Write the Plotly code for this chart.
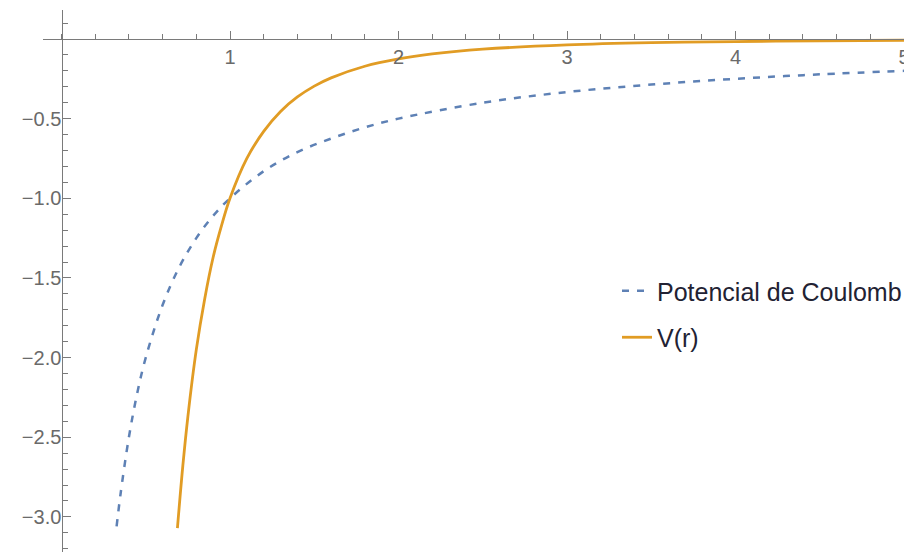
import plotly.graph_objects as go

# Values
r_coulomb = [0.327, 0.35, 0.40, 0.45, 0.50, 0.60, 0.70, 0.80, 0.90, 1.00, 1.20, 1.40,
             1.60, 1.80, 2.00, 2.50, 3.00, 3.50, 4.00, 4.50, 5.00]
v_coulomb = [-3.06, -2.86, -2.50, -2.22, -2.00, -1.67, -1.43, -1.25, -1.11, -1.00, -0.83, -0.71,
             -0.625, -0.555, -0.50, -0.40, -0.333, -0.286, -0.25, -0.222, -0.20]

r_v = [0.688, 0.72, 0.75, 0.80, 0.85, 0.90, 0.95, 1.00, 1.10, 1.20, 1.30, 1.40, 1.50, 1.60,
       1.80, 2.00, 2.20, 2.50, 3.00, 3.50, 4.00, 4.50, 5.00]
v_r = [-3.07, -2.68, -2.37, -1.95, -1.63, -1.37, -1.17, -1.00, -0.75, -0.58, -0.455, -0.364,
       -0.296, -0.244, -0.171, -0.125, -0.094, -0.064, -0.037, -0.023, -0.016, -0.011, -0.008]

x_tick_vals = [1, 2, 3, 4, 5]
x_tick_text = ["1", "2", "3", "4", "5"]
y_tick_vals = [-3.0, -2.5, -2.0, -1.5, -1.0, -0.5]
y_tick_text = ["\u22123.0", "\u22122.5", "\u22122.0", "\u22121.5", "\u22121.0", "\u22120.5"]

# page is shown with an 8px body margin, so the figure is sized/offset to compensate
OFF = 8
W, H = 912 - OFF, 552 - OFF
x0_px, y0_px = 61.5 - OFF, 39.0 - OFF
px_per_x, px_per_y = 168.5, 159.3

x_left_px = 43 - OFF
xr = [(x_left_px - x0_px) / px_per_x, (W - x0_px) / px_per_x]
y_top_px = 10 - OFF
yr = [(y0_px - H) / px_per_y, (y0_px - y_top_px) / px_per_y]

axis_col = "#7a7a7a"
tick_font = dict(family="Liberation Sans, Arial, sans-serif", size=20, color="#6a6a6a")

fig = go.Figure()
fig.add_trace(go.Scatter(
    x=r_coulomb, y=v_coulomb, mode="lines", name="Potencial de Coulomb",
    line=dict(color="#5E81B5", width=2.5, dash="7px,8px", shape="spline", smoothing=1.0),
    legendgroup="a"))
fig.add_trace(go.Scatter(
    x=r_v, y=v_r, mode="lines", name="V(r)",
    line=dict(color="#E19C24", width=2.8, shape="spline", smoothing=1.0),
    legendgroup="b"))

fig.update_layout(
    width=W, height=H,
    margin=dict(l=0, r=0, t=0, b=0),
    paper_bgcolor="white", plot_bgcolor="white",
    showlegend=True,
    legend=dict(x=(617 - OFF) / W, y=(H - (268 - OFF)) / H, xanchor="left", yanchor="top",
                font=dict(family="Liberation Sans, Arial, sans-serif", size=25, color="#222233"),
                bgcolor="rgba(255,255,255,0)", traceorder="grouped", tracegroupgap=11),
    xaxis=dict(
        domain=[x_left_px / W, 1], range=xr, anchor="free", position=(H - y0_px) / H,
        showgrid=False, zeroline=False, showline=True, linecolor=axis_col, linewidth=1.3,
        tickmode="array", tickvals=x_tick_vals, ticktext=x_tick_text,
        ticks="inside", ticklen=8, tickwidth=1.2, tickcolor=axis_col,
        minor=dict(dtick=0.2, tick0=0, ticks="inside", ticklen=5, tickwidth=1, tickcolor=axis_col),
        tickfont=tick_font, automargin=False, fixedrange=True),
    yaxis=dict(
        domain=[0, (H - y_top_px) / H], range=yr, anchor="free", position=x0_px / W,
        showgrid=False, zeroline=False, showline=True, linecolor=axis_col, linewidth=1.3,
        tickmode="array", tickvals=y_tick_vals, ticktext=y_tick_text,
        ticks="inside", ticklen=8, tickwidth=1.2, tickcolor=axis_col, ticklabelstandoff=-4,
        minor=dict(dtick=0.1, tick0=0, ticks="inside", ticklen=5, tickwidth=1, tickcolor=axis_col),
        tickfont=tick_font, automargin=False, fixedrange=True),
)

fig.write_html("out.html")
